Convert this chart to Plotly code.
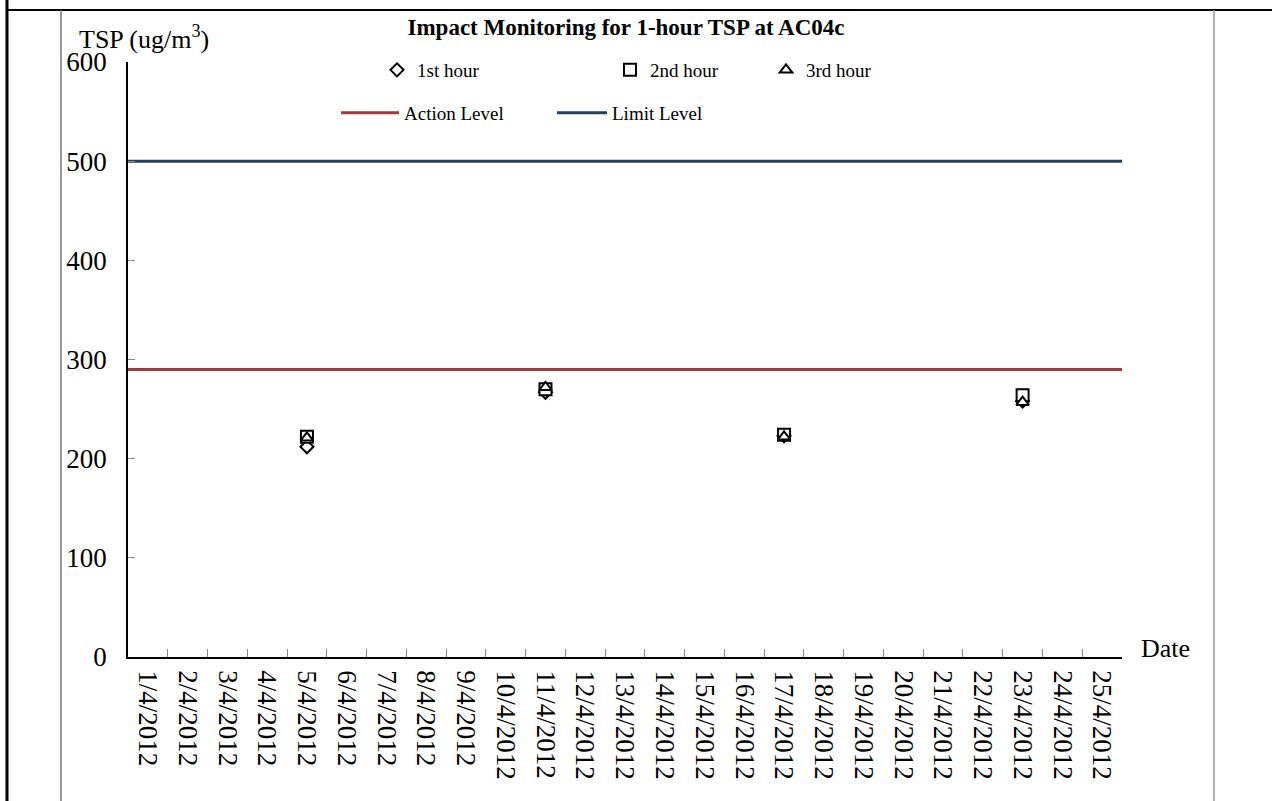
import plotly.graph_objects as go

# ---- data ----
dates = [f"{d}/4/2012" for d in range(1, 26)]
hour1 = {"5/4/2012": 212, "11/4/2012": 267, "17/4/2012": 223, "23/4/2012": 258}
hour2 = {"5/4/2012": 222, "11/4/2012": 270, "17/4/2012": 224, "23/4/2012": 264}
hour3 = {"5/4/2012": 221, "11/4/2012": 272, "17/4/2012": 222, "23/4/2012": 257}
action_level = 290
limit_level = 500

W, H = 1272, 801
L, R, T, B = 128, 150, 62, 144
PW, PH = W - L - R, H - T - B
FONT = "Liberation Serif, Times New Roman, serif"


def px(x):
    return (x - L) / PW


def py(y):
    return (H - B - y) / PH


def series(d):
    return [d.get(k) for k in dates]


fig = go.Figure()

marker_common = dict(color="white", line=dict(color="black", width=2))
fig.add_trace(go.Scatter(x=dates, y=series(hour1), mode="markers", name="1st hour", showlegend=True,
                         marker=dict(symbol="diamond", size=10, **marker_common), legend="legend"))
fig.add_trace(go.Scatter(x=dates, y=series(hour2), mode="markers", name="2nd hour", showlegend=True,
                         marker=dict(symbol="square", size=12, **marker_common), legend="legend2"))
fig.add_trace(go.Scatter(x=dates, y=series(hour3), mode="markers", name="3rd hour", showlegend=True,
                         marker=dict(symbol="triangle-up", size=11, **marker_common), legend="legend3"))
fig.add_trace(go.Scatter(x=[0, 1], y=[action_level, action_level], mode="lines", name="Action Level",
                         showlegend=True, line=dict(color="#9E3A38", width=3), xaxis="x2", legend="legend4"))
fig.add_trace(go.Scatter(x=[0, 1], y=[limit_level, limit_level], mode="lines", name="Limit Level",
                         showlegend=True, line=dict(color="#243F60", width=3), xaxis="x2", legend="legend5"))

leg = dict(bgcolor="rgba(0,0,0,0)", borderwidth=0, font=dict(family=FONT, size=19, color="black"),
           xanchor="left", yanchor="middle", visible=True)

shapes = [
    dict(type="line", xref="paper", yref="paper", x0=px(7), x1=px(W), y0=py(10), y1=py(10),
         line=dict(color="black", width=2)),
    dict(type="line", xref="paper", yref="paper", x0=px(7), x1=px(7), y0=py(0), y1=py(H),
         line=dict(color="black", width=3)),
    dict(type="line", xref="paper", yref="paper", x0=px(61), x1=px(61), y0=py(10), y1=py(H),
         line=dict(color="#777777", width=1.5)),
    dict(type="line", xref="paper", yref="paper", x0=px(1214), x1=px(1214), y0=py(10), y1=py(H),
         line=dict(color="#999999", width=1.5)),
]

fig.update_layout(
    width=W, height=H,
    showlegend=True,
    margin=dict(l=L, r=R, t=T, b=B),
    paper_bgcolor="white", plot_bgcolor="white",
    font=dict(family=FONT, color="black"),
    title=dict(text="<b>Impact Monitoring for 1-hour TSP at AC04c</b>", font=dict(size=23, family=FONT),
               x=px(626), xref="paper", xanchor="center", y=1 - 27 / H, yanchor="middle"),
    xaxis=dict(type="category", categoryorder="array", categoryarray=dates, range=[-0.5, 24.5],
               tickson="boundaries", ticks="inside", ticklen=8, tickcolor="#888888",
               showline=True, linecolor="black", linewidth=1.5, showgrid=False, zeroline=False,
               tickangle=90, tickfont=dict(size=27, family=FONT), ticklabelstandoff=6),
    xaxis2=dict(overlaying="x", range=[0, 1], visible=False),
    yaxis=dict(range=[0, 600], dtick=100, ticks="inside", ticklen=7, tickcolor="#888888",
               showline=True, linecolor="black", linewidth=1.5, showgrid=False, zeroline=False,
               tickfont=dict(size=27, family=FONT), ticklabelstandoff=14),
    legend=dict(x=px(377), y=py(70), **leg),
    legend2=dict(x=px(610), y=py(70), **leg),
    legend3=dict(x=px(766), y=py(70), **leg),
    legend4=dict(x=px(336), y=py(113), itemwidth=58, **leg),
    legend5=dict(x=px(552), y=py(113), itemwidth=50, **leg),
    shapes=shapes,
    annotations=[
        dict(text="TSP (ug/m<sup>3</sup>)", xref="paper", yref="paper", x=px(77), y=py(38),
             xanchor="left", yanchor="middle", showarrow=False, font=dict(size=26, family=FONT)),
        dict(text="Date", xref="paper", yref="paper", x=px(1139), y=py(648),
             xanchor="left", yanchor="middle", showarrow=False, font=dict(size=26, family=FONT)),
    ],
)

fig.write_html("out.html", config={"displayModeBar": False},
               post_script="document.body.style.margin='0';")
